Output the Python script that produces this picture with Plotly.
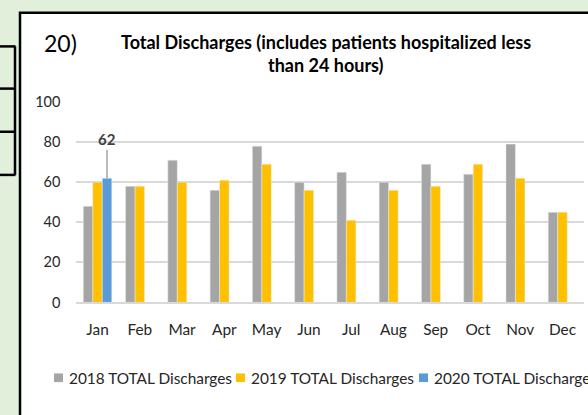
import plotly.graph_objects as go

months = ["Jan", "Feb", "Mar", "Apr", "May", "Jun", "Jul", "Aug", "Sep", "Oct", "Nov", "Dec"]
v2018 = [48, 58, 71, 56, 78, 60, 65, 60, 69, 64, 79, 45]
v2019 = [60, 58, 60, 61, 69, 56, 41, 56, 58, 69, 62, 45]
v2020 = [62]
series_names = ["2018 TOTAL Discharges", "2019 TOTAL Discharges", "2020 TOTAL Discharges"]
colors = ["#A5A5A5", "#FFC000", "#5B9BD5"]
y_ticks = [0, 20, 40, 60, 80, 100]
title_lines = ["Total Discharges (includes patients hospitalized less", "than 24 hours)"]

W, H = 588, 415
FONT = "Lato"
TXT = "#262626"

def px(x):
    return x / W

def py(y):
    return 1 - y / H

fig = go.Figure()
fig.add_trace(go.Bar(x=months, y=v2018, name=series_names[0], marker_color=colors[0]))
fig.add_trace(go.Bar(x=months, y=v2019, name=series_names[1], marker_color=colors[1]))
fig.add_trace(go.Bar(x=months[:len(v2020)], y=v2020, name=series_names[2], marker_color=colors[2]))

shapes = []
# chart box
shapes.append(dict(type="rect", xref="paper", yref="paper", x0=px(20), x1=px(640), y0=py(460), y1=py(4),
                   fillcolor="white", line=dict(color="black", width=2.5), layer="below"))
# left table fragment
for yy in [39, 83, 128, 173]:
    shapes.append(dict(type="line", xref="paper", yref="paper", x0=px(-5), x1=px(15.5), y0=py(yy), y1=py(yy),
                       line=dict(color="black", width=2.5)))
shapes.append(dict(type="line", xref="paper", yref="paper", x0=px(15), x1=px(15), y0=py(39), y1=py(173),
                   line=dict(color="black", width=2.5)))

annotations = []
annotations.append(dict(text="20)", xref="paper", yref="paper", x=px(42), y=py(35), xanchor="left", yanchor="middle",
                        showarrow=False, font=dict(family=FONT, size=23, color="black")))
for line, yy in zip(title_lines, [34, 58]):
    annotations.append(dict(text="<b>" + line + "</b>", xref="paper", yref="paper", x=px(326), y=py(yy),
                            xanchor="center", yanchor="middle", showarrow=False,
                            font=dict(family=FONT, size=18, color="black")))
# data label for 2020 Jan
annotations.append(dict(text="<b>62</b>", x=months[0], y=v2020[0], xref="x", yref="y", xshift=9.5,
                        showarrow=True, arrowhead=0, arrowwidth=1.5, arrowcolor="#A6A6A6", ax=0, ay=-39,
                        standoff=0, font=dict(family=FONT, size=15, color="#404040")))

# legend (manual, so it can run past the right edge like the reference)
leg_x = [54, 236, 419]
for name, col, lx in zip(series_names, colors, leg_x):
    shapes.append(dict(type="rect", xref="paper", yref="paper", x0=px(lx), x1=px(lx + 9), y0=py(389), y1=py(380),
                       fillcolor=col, line=dict(width=0)))
    annotations.append(dict(text=name, xref="paper", yref="paper", x=px(lx + 13), y=py(384.5), xanchor="left",
                            yanchor="middle", showarrow=False, font=dict(family=FONT, size=15.4, color=TXT)))

fig.update_layout(
    width=W, height=H,
    margin=dict(l=0, r=0, t=0, b=0),
    paper_bgcolor="#E2EFDA",
    plot_bgcolor="white",
    barmode="group",
    bargap=0.326,
    bargroupgap=0,
    showlegend=False,
    shapes=shapes,
    annotations=annotations,
    font=dict(family=FONT, color=TXT),
    xaxis=dict(domain=[px(76.4), px(583.6)], showgrid=False, showline=True, linecolor="#D9D9D9", linewidth=1.5,
               tickfont=dict(family=FONT, size=15.4, color=TXT), ticks="", ticklabelstandoff=12),
    yaxis=dict(domain=[py(306), py(97)], range=[0, 100], tickvals=y_ticks, showgrid=True, gridcolor="#D9D9D9",
               gridwidth=1.5, zeroline=False, showline=False, ticks="",
               tickfont=dict(family=FONT, size=14.5, color=TXT), ticklabelstandoff=15),
)

fig.write_html("out.html", config={"displayModeBar": False},
               post_script="document.documentElement.style.margin='0';document.body.style.margin='0';document.body.style.overflow='hidden';")
